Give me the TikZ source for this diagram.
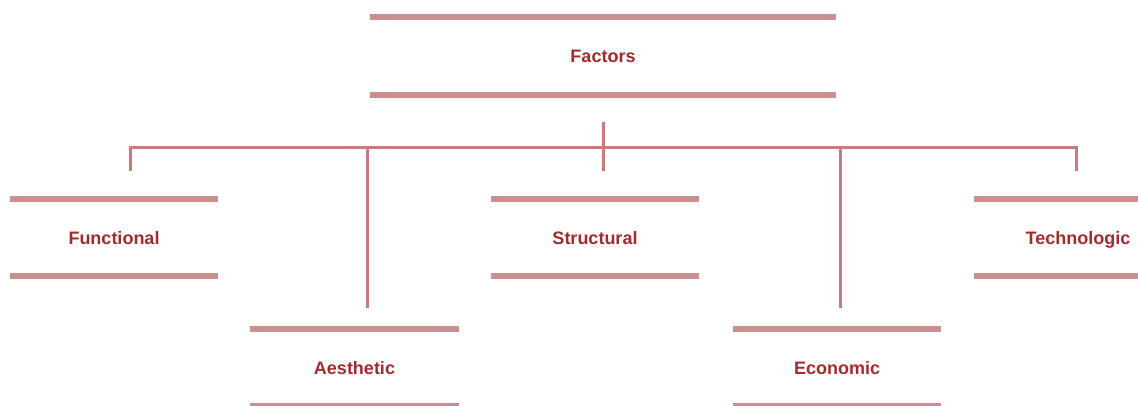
\documentclass[tikz,border=0pt]{standalone}
\usepackage{fontspec}
\setmainfont{Liberation Sans}
\definecolor{barc}{HTML}{CC8F8F}
\definecolor{linec}{HTML}{C67C7C}
\definecolor{txtc}{HTML}{A22C2C}
\begin{document}
\begin{tikzpicture}[x=1pt,y=-1pt,
  box/.style={minimum width=208pt,minimum height=77pt,inner sep=0pt,
    font=\fontsize{18}{21}\selectfont\bfseries,text=txtc,
    text height=15pt,text depth=2pt},
  bar/.style={draw=barc,line width=6.5pt},
  conn/.style={draw=linec,line width=3pt}]
\useasboundingbox (0,0) rectangle (1138,405);
\node[box,minimum width=466pt,minimum height=78pt] (top) at (603,56) {Factors};
\node[box] (f) at (114,237.5) {Functional};
\node[box] (s) at (595,237.5) {Structural};
\node[box] (t) at (1078,237.5) {Technologic};
\node[box] (a) at (354.5,367.5) {Aesthetic};
\node[box] (e) at (837,367.5) {Economic};
\foreach \n in {top,f,s,t,a,e}{
  \draw[bar] (\n.north west) -- (\n.north east);
  \draw[bar] (\n.south west) -- (\n.south east);
}
\coordinate (j) at (603,147);
\coordinate (fd) at (130,171);
\coordinate (ad) at (367,308);
\coordinate (sd) at (603,171);
\coordinate (ed) at (840,308);
\coordinate (td) at (1076,171);
\draw[conn] ([yshift=-27pt]top.south) -- (j);
\draw[conn] (fd) |- (j) -| (td);
\draw[conn] (ad |- j) -- (ad);
\draw[conn] (sd |- j) -- (sd);
\draw[conn] (ed |- j) -- (ed);
\end{tikzpicture}
\end{document}
